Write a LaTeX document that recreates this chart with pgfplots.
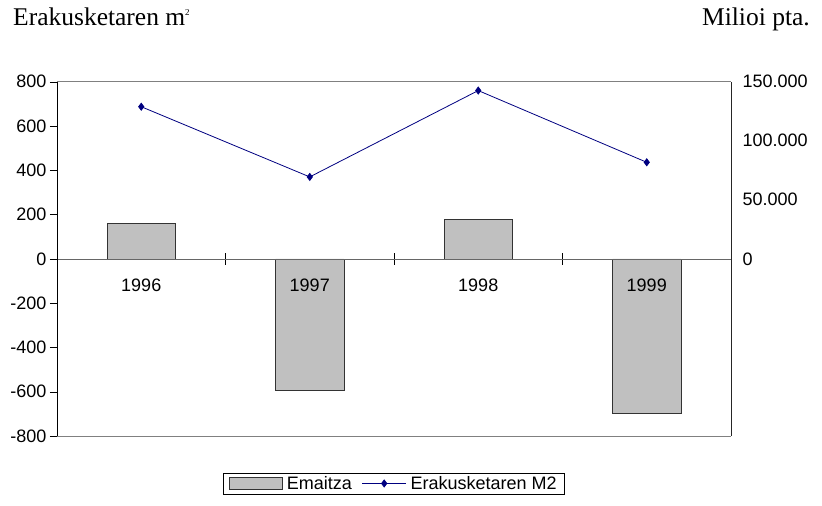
\documentclass[border=0pt]{standalone}
\usepackage{pgfplots}
\pgfplotsset{compat=1.18}
\usepackage{fontspec}
\setmainfont{Liberation Sans}
\newfontfamily\serif{Liberation Serif}
\definecolor{barfill}{HTML}{C0C0C0}
\definecolor{navyblue}{HTML}{000080}
\pgfplotsset{
  barleg/.style={legend image code/.code={\draw[##1] (0pt,-6pt) rectangle (53pt,6pt);}},
  lineleg/.style={legend image code/.code={\draw[mark repeat=2,mark phase=2,##1] plot coordinates {(0pt,0pt) (22pt,0pt) (44pt,0pt)};}},
}
\begin{document}
\begin{tikzpicture}
\useasboundingbox (-57pt,-70pt) rectangle (765pt,436pt);
% right axis (frame + right labels)
\begin{axis}[
  at={(0,0)}, anchor=south west, scale only axis,
  width=674pt, height=354.3pt,
  xmin=-0.5, xmax=3.5, ymin=-150000, ymax=150000,
  axis x line*=box, axis y line*=right,
  xtick=\empty,
  scaled y ticks=false,
  x axis line style={-, draw=gray},
  y axis line style={-, draw=black!85},
  ytick={0,50000,100000,150000},
  yticklabels={0,50.000,100.000,150.000},
  major tick length=0pt,
  yticklabel style={font=\fontsize{18}{20}\selectfont, xshift=8pt},
]
\end{axis}
% main axis
\begin{axis}[
  at={(0,0)}, anchor=south west, scale only axis,
  width=674pt, height=354.3pt,
  xmin=-0.5, xmax=3.5, ymin=-800, ymax=800,
  axis on top,
  axis y line*=left, axis x line=middle,
  hide obscured x ticks=false, hide obscured y ticks=false,
  x axis line style={-, draw=black!60},
  y axis line style={-, draw=black},
  ytick={-800,-600,-400,-200,0,200,400,600,800},
  yticklabels={-800,-600,-400,-200,0,200,400,600,800},
  ytick align=outside,
  xtick align=center,
  major tick length=7pt,
  tick style={black},
  xtick={0.5,1.5,2.5},
  xticklabels={,,},
  xtick style={/pgfplots/major tick length=12pt},
  extra x ticks={0,1,2,3},
  extra x tick labels={1996,1997,1998,1999},
  extra x tick style={xtick style={draw=none, /pgfplots/major tick length=0pt}, xticklabel style={yshift=-13pt}},
  ticklabel style={font=\fontsize{18}{20}\selectfont},
  legend style={at={(0.5,-0.1044)}, anchor=north, legend columns=2,
    draw=black, font=\fontsize{18}{20}\selectfont, inner xsep=6pt, inner ysep=1pt,
    /tikz/every even column/.append style={column sep=8pt}},
]
\addplot[ybar, bar width=0.405, fill=barfill, draw=black!80, barleg]
  coordinates {(0,159) (1,-593) (2,179) (3,-698)};
\addlegendentry{\hspace{2pt}Emaitza}
\addplot[navyblue, line width=0.8pt, mark=diamond*, mark size=3.5pt,
  mark options={fill=navyblue}, lineleg]
  coordinates {(0,687) (1,370) (2,760) (3,436)};
\addlegendentry{\hspace{2pt}Erakusketaren M2}
\end{axis}
\node[anchor=base west, inner sep=0pt, font=\serif\fontsize{25.5}{28}\selectfont] at (-44pt,410pt) {Erakusketaren m\raisebox{0.42em}{\fontsize{9}{9}\selectfont 2}};
\node[anchor=base east, inner sep=0pt, font=\serif\fontsize{25.5}{28}\selectfont] at (753pt,410pt) {Milioi pta.};
\end{tikzpicture}
\end{document}
